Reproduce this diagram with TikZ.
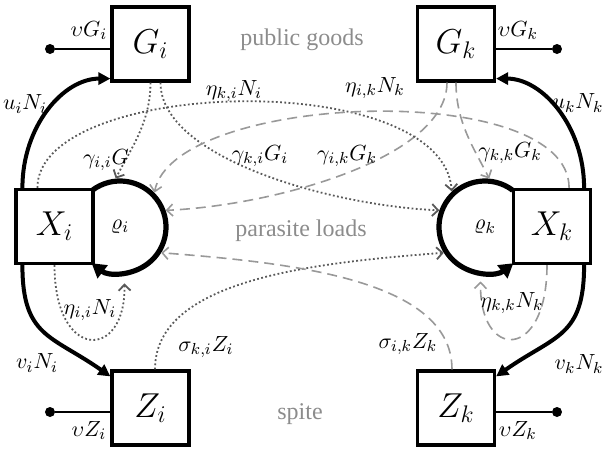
\documentclass[tikz,border=0pt]{standalone}
\usepackage[no-math]{fontspec}
\setmainfont{Liberation Serif}
\usetikzlibrary{arrows.meta}

\tikzset{
  box/.style={draw,line width=1.6pt,minimum width=38.5pt,minimum height=37pt,inner sep=0pt,font=\fontsize{16.5}{18}\selectfont},
  ring/.style={circle,minimum size=46pt,inner sep=0pt,outer sep=1.3pt},
  sink/.style={circle,fill,minimum size=5pt,inner sep=0pt},
  lbl/.style={inner sep=1pt},
  area/.style={text=black!45,font=\fontsize{12}{14}\selectfont},
  flow/.style={line width=2pt,-{Triangle[length=6pt,width=6pt]}},
  loopline/.style={line width=2.6pt,-{Triangle[length=7pt,width=8pt]}},
  tie/.style={line width=0.7pt},
  dotlink/.style={black!65,line width=0.9pt,dash pattern=on 0.9pt off 1.2pt,-{Straight Barb[length=3pt,width=6pt]}},
  dashlink/.style={black!40,line width=0.8pt,dash pattern=on 5pt off 3pt,-{Straight Barb[length=3pt,width=6pt]}}
}

\begin{document}
\begin{tikzpicture}[x=0.5pt,y=-0.5pt,font=\fontsize{11}{13}\selectfont]
  \useasboundingbox (0,0) rectangle (602,450);

  % stocks
  \node[box] (Gi) at (150.5,44) {$G_i$};
  \node[box] (Gk) at (456,44) {$G_k$};
  \node[box] (Xi) at (54.5,226.5) {$X_i$};
  \node[box] (Xk) at (552,226.5) {$X_k$};
  \node[box] (Zi) at (150.5,408) {$Z_i$};
  \node[box] (Zk) at (456,408) {$Z_k$};
  \node[ring] (Ri) at (120,227) {$\varrho_i$};
  \node[ring] (Rk) at (485,227) {$\varrho_k$};

  % parasite load loops
  \draw[loopline] (Ri.center) ++(127:23pt) arc[start angle=127,end angle=-128,radius=23pt];
  \draw[loopline] (Rk.center) ++(53:23pt) arc[start angle=53,end angle=308,radius=23pt];

  % decay
  \node[sink] (dGi) at (50,49) {};
  \node[sink] (dGk) at (557,49) {};
  \node[sink] (dZi) at (50,412) {};
  \node[sink] (dZk) at (557,412) {};
  \draw[tie] (dGi) -- (dGi -| Gi.west) node[midway,above=1pt,xshift=3pt] (vGi) {$\upsilon G_i$};
  \draw[tie] (dGk) -- (dGk -| Gk.east) node[midway,above=1pt,xshift=-3pt] (vGk) {$\upsilon G_k$};
  \draw[tie] (dZi) -- (dZi -| Zi.west) node[midway,below=1pt,xshift=3pt] (vZi) {$\upsilon Z_i$};
  \draw[tie] (dZk) -- (dZk -| Zk.east) node[midway,below=1pt,xshift=-3pt] (vZk) {$\upsilon Z_k$};

  % investment
  \draw[flow] ([xshift=4pt]Xi.north west) .. controls +(0,-62) and +(-47,0) .. ([yshift=2pt]Gi.south west);
  \draw[flow] ([xshift=-4pt]Xk.north east) .. controls +(0,-62) and +(46,0) .. ([yshift=2pt]Gk.south east);
  \draw[flow] ([xshift=4pt]Xi.south west) to[out=-90,in=145,looseness=1.3] ([yshift=-3.5pt]Zi.north west);
  \draw[flow] ([xshift=-4pt]Xk.south east) to[out=-90,in=35,looseness=1.3] ([yshift=-3.5pt]Zk.north east);
  \node[lbl] (uNi) at (25,104) {$u_iN_i$};
  \node[lbl] (uNk) at (578,103) {$u_kN_k$};
  \node[lbl] (vNi) at (37,363) {$v_iN_i$};
  \node[lbl] (vNk) at (579,364) {$v_kN_k$};

  % goods
  \draw[dotlink] (Gi.south) .. controls +(0,40) and +(15,-30) .. (Ri.95);
  \draw[dotlink] ([xshift=5pt]Gi.south) .. controls +(0,75) and +(-110,-5) .. (Rk.160);
  \draw[dashlink] (Gk.south) .. controls +(0,40) and +(-15,-30) .. (Rk.85);
  \draw[dashlink] ([xshift=-4.5pt]Gk.south) .. controls +(0,75) and +(110,-5) .. (Ri.20);
  \node[lbl] (gii) at (106,160) {$\gamma_{i,i}G$};
  \node[lbl] (gki) at (260,156) {$\gamma_{k,i}G_i$};
  \node[lbl] (gik) at (347,156) {$\gamma_{i,k}G_k$};
  \node[lbl] (gkk) at (510,153) {$\gamma_{k,k}G_k$};

  % direct transmission
  \draw[dotlink] ([xshift=11.5pt]Xi.north west) .. controls +(0,-110) and +(-10,-125) .. (Rk.133);
  \draw[dashlink] ([xshift=-11.5pt]Xk.north east) .. controls +(0,-110) and +(20,-100) .. (Ri.45);
  \draw[dotlink,shorten >=4pt] (Xi.south) .. controls +(0,97) and +(2,85) .. (Ri.-85);
  \draw[dashlink,shorten >=3pt] ([xshift=-2.5pt]Xk.south) .. controls +(0,97) and +(-2,85) .. (Rk.-95);
  \node[lbl] (eki) at (234,91) {$\eta_{k,i}N_i$};
  \node[lbl] (eik) at (375,88) {$\eta_{i,k}N_k$};
  \node[lbl] (eii) at (90,310) {$\eta_{i,i}N_i$};
  \node[lbl] (ekk) at (512,303) {$\eta_{k,k}N_k$};

  % spite
  \draw[dotlink] ([xshift=2.25pt]Zi.north) .. controls +(0,-90) and +(-130,10) .. (Rk.212);
  \draw[dashlink] ([xshift=-2pt]Zk.north) .. controls +(0,-90) and +(130,10) .. (Ri.-32);
  \node[lbl] (ski) at (206,347) {$\sigma_{k,i}Z_i$};
  \node[lbl] (sik) at (408,344) {$\sigma_{i,k}Z_k$};

  \node[area] (goods) at (302,40) {public goods};
  \node[area] (loads) at (301,231) {parasite loads};
  \node[area] (spite) at (300,414) {spite};
\end{tikzpicture}
\end{document}
